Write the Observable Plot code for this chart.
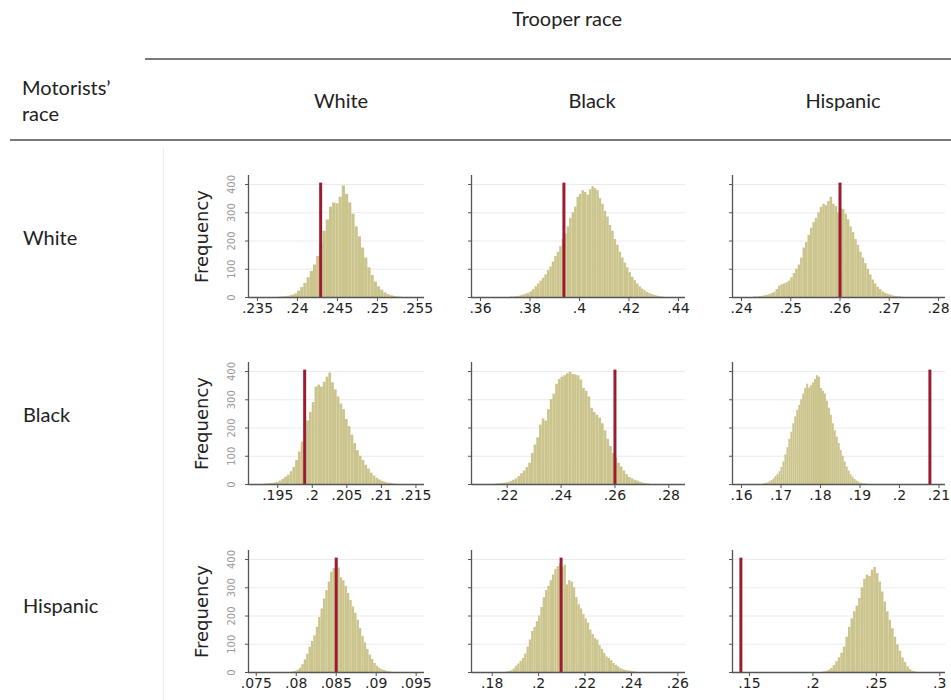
<!DOCTYPE html>
<html>
<head>
<meta charset="utf-8">
<script src="https://cdn.jsdelivr.net/npm/d3@7"></script>
<script src="https://cdn.jsdelivr.net/npm/@observablehq/plot@0.6"></script>
<style>
  html, body { margin: 0; padding: 0; background: #fff; }
  #page { position: relative; width: 951px; height: 700px; overflow: hidden; font-family: Lato, "Open Sans", sans-serif; color: #222; }
  .lbl { position: absolute; font-size: 20px; line-height: 1; white-space: nowrap; }
  .c { transform: translate(-50%, -50%); }
  .l { transform: translateY(-50%); }
  .hr { position: absolute; height: 0; border-top: 2px solid #7a7a7a; }
  svg.panel, svg.panel text { font-family: "DejaVu Sans", Verdana, sans-serif !important; }
  svg.panel g[aria-label="x-axis tick label"] { font-size: 14px !important; fill: #1e1e1e !important; }
  svg.panel g[aria-label="x-axis tick label"] text { font-size: 14px !important; }
</style>
</head>
<body>
<div id="page"></div>
<script>
// ---------------- data ----------------
const trooperRaces = ["White", "Black", "Hispanic"];
const motoristRaces = ["White", "Black", "Hispanic"];
const headerTitle = "Trooper race";
const rowTitle = ["Motorists’", "race"];

// observed (actual) proportion, red line: [motorist][trooper]
const observed = [
  [0.2429, 0.3937, 0.2600],
  [0.1989, 0.2600, 0.2077],
  [0.0850, 0.2097, 0.1432]
];

// histogram bin start and bin width (x units)
const binStart = [
  [0.2376, 0.372, 0.2425],
  [0.1932, 0.215, 0.1655],
  [0.0795, 0.186, 0.208]
];
const binWidth = [
  [0.0004, 0.001, 0.0005],
  [0.0004, 0.001, 0.0005],
  [0.0003, 0.001, 0.002]
];

// frequencies
const freqWhiteWhite = [1,2,3,5,8,12,22,35,50,70,92,115,145,190,235,275,320,335,332,355,395,365,335,295,250,215,175,140,105,78,55,38,26,16,10,6,4,2,1];
const freqWhiteBlack = [2,2,3,4,6,9,12,15,20,28,38,48,58,68,80,95,108,125,145,160,180,205,225,250,280,300,320,355,365,378,372,362,382,392,385,378,350,330,305,285,255,235,205,185,160,140,122,105,88,72,60,48,38,30,24,18,14,10,7,5,3,2];
const freqWhiteHisp = [2,2,3,4,6,8,10,14,18,28,40,45,48,52,58,70,85,100,115,140,175,195,220,245,265,280,300,320,330,325,340,355,330,322,300,315,312,295,275,250,230,205,185,160,140,120,100,80,62,48,36,28,20,15,12,9,6,4,3,2,1];
const freqBlackWhite = [2,3,4,5,7,12,18,26,33,45,60,85,115,150,195,225,255,290,345,352,345,362,380,395,360,335,310,285,265,230,205,175,145,120,100,85,68,55,40,30,22,16,11,8,5,4,2,1];
const freqBlackBlack = [1,2,3,4,5,7,10,15,20,28,38,48,60,75,110,140,165,210,232,225,265,300,320,355,372,380,385,392,398,390,388,385,370,340,330,310,270,255,245,235,215,190,160,135,110,92,75,62,48,35,25,20,15,12,8,5,3,2];
const freqBlackHisp = [2,4,6,10,14,20,28,35,45,60,80,105,130,160,185,215,240,262,280,300,320,340,355,342,350,360,372,385,380,340,330,320,295,270,245,215,190,168,145,120,100,80,62,48,35,26,18,12,8,5,3,2,1];
const freqHispWhite = [2,4,8,15,28,45,65,90,110,130,160,195,225,260,290,320,355,368,395,370,335,325,305,280,255,232,210,185,155,128,105,82,62,46,32,22,15,10,7,4,2,1];
const freqHispBlack = [2,3,6,12,22,30,40,50,65,90,115,145,160,180,200,230,265,290,305,325,345,365,375,385,372,380,310,325,320,300,265,240,225,205,190,175,150,135,120,115,95,82,68,55,50,42,32,25,20,14,10,8,6,5,3,2,1];
const freqHispHisp = [2,4,8,15,25,38,52,68,90,125,160,190,215,235,262,300,330,345,340,362,372,350,320,285,250,215,185,155,125,98,75,52,35,20,10,4,2];

const freqs = [
  [freqWhiteWhite, freqWhiteBlack, freqWhiteHisp],
  [freqBlackWhite, freqBlackBlack, freqBlackHisp],
  [freqHispWhite, freqHispBlack, freqHispHisp]
];

// x axis tick labels and axis extents
const xTicks = [
  [[0.235, 0.24, 0.245, 0.25, 0.255], [0.36, 0.38, 0.4, 0.42, 0.44], [0.24, 0.25, 0.26, 0.27, 0.28]],
  [[0.195, 0.2, 0.205, 0.21, 0.215], [0.22, 0.24, 0.26, 0.28], [0.16, 0.17, 0.18, 0.19, 0.2, 0.21]],
  [[0.075, 0.08, 0.085, 0.09, 0.095], [0.18, 0.2, 0.22, 0.24, 0.26], [0.15, 0.2, 0.25, 0.3]]
];
const xDomains = [
  [[0.23388, 0.25588], [0.35636, 0.44283], [0.23817, 0.28142]],
  [[0.19077, 0.21624], [0.20675, 0.28618], [0.15772, 0.21165]],
  [[0.07403, 0.09604], [0.1711, 0.2633], [0.1366, 0.3045]]
];
const freqTicks = [0, 100, 200, 300, 400];
const freqMax = 432;
const obsTop = 405;

// ---------------- layout ----------------
const page = document.getElementById("page");
function addLabel(text, x, y, cls) {
  const d = document.createElement("div");
  d.className = "lbl " + cls;
  d.style.left = x + "px";
  d.style.top = y + "px";
  d.textContent = text;
  page.appendChild(d);
}
function addLine(x, y, w) {
  const d = document.createElement("div");
  d.className = "hr";
  d.style.left = x + "px";
  d.style.top = y + "px";
  d.style.width = w + "px";
  page.appendChild(d);
}
addLabel(headerTitle, 567, 18, "c");
addLine(145, 58, 806);
addLabel(rowTitle[0], 22, 87, "l");
addLabel(rowTitle[1], 22, 113, "l");
const colCenters = [341, 592, 843];
trooperRaces.forEach((t, i) => addLabel(t, colCenters[i], 100, "c"));
addLine(10, 139, 941);
const vline = document.createElement("div");
Object.assign(vline.style, {position: "absolute", left: "163px", top: "148px", width: "0", height: "560px", borderLeft: "1px solid #eeeeee"});
page.appendChild(vline);
const rowCenters = [237, 414, 605];
motoristRaces.forEach((m, i) => addLabel(m, 23, rowCenters[i], "l"));

const axisX = [248, 471, 732];
const rightX = [424, 685, 945];
const zeroY = [297, 484, 672];
const innerH = 122;
const fmt = d => String(d).replace(/^0\./, ".");

for (let r = 0; r < 3; r++) {
  for (let c = 0; c < 3; c++) {
    const ml = c === 0 ? 62 : 12, mr = 8, mt = 6, mb = 28;
    const w = ml + (rightX[c] - axisX[c]) + mr;
    const h = mt + innerH + mb;
    const s = binStart[r][c], bw = binWidth[r][c];
    const bins = freqs[r][c].map((f, i) => ({x1: s + i * bw, x2: s + (i + 1) * bw, f}));
    const dom = xDomains[r][c];
    const marks = [
      Plot.gridY({ticks: freqTicks.slice(1), stroke: "#ebebeb", strokeOpacity: 1}),
      Plot.rectY(bins, {x1: "x1", x2: "x2", y: "f", fill: "#cbc48d"}),
      Plot.ruleX([observed[r][c]], {y1: 0, y2: obsTop, stroke: "#9b1c31", strokeWidth: 3}),
      Plot.ruleY([0], {stroke: "#555", strokeWidth: 1.3}),
      Plot.ruleX([dom[0]], {stroke: "#555", strokeWidth: 1.3}),
      Plot.axisX({ticks: xTicks[r][c], tickFormat: fmt, tickSize: 4, tickPadding: 2, label: null, stroke: "#555", fontSize: 14, fill: "#1e1e1e"}),
      Plot.axisY({ticks: freqTicks, tickSize: 3, tickFormat: () => "", label: null, stroke: "#555"})
    ];
    if (c === 0) {
      marks.push(Plot.text(freqTicks, {y: d => d, text: d => String(d), frameAnchor: "left", textAnchor: "middle", lineAnchor: "middle", dx: -17, rotate: -90, fontSize: 10, fill: "#9a9a9a"}));
      marks.push(Plot.text(["Frequency"], {frameAnchor: "left", textAnchor: "middle", lineAnchor: "middle", dx: -46, rotate: -90, fontSize: 18, fill: "#222"}));
    }
    const svg = Plot.plot({
      width: w, height: h,
      marginLeft: ml, marginRight: mr, marginTop: mt, marginBottom: mb,
      x: {domain: dom},
      y: {domain: [0, freqMax]},
      style: {fontFamily: "DejaVu Sans", fontSize: "14px", color: "#222", background: "transparent", overflow: "visible"},
      marks
    });
    svg.classList.add("panel");
    svg.style.position = "absolute";
    svg.style.left = (axisX[c] - ml) + "px";
    svg.style.top = (zeroY[r] - innerH - mt) + "px";
    page.appendChild(svg);
  }
}
</script>
</body>
</html>
